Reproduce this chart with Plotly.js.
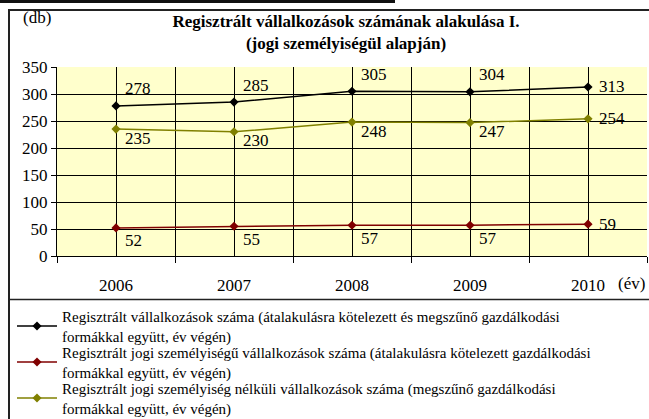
<!DOCTYPE html>
<html>
<head>
<meta charset="utf-8">
<script src="https://cdn.plot.ly/plotly-3.0.1.min.js"></script>
<style>
body{margin:0;}
svg text{font-family:'Liberation Serif' !important;}
</style>
</head>
<body>
<div id="chart"></div>
<script>
// ---- data ----
const years = ['2006', '2007', '2008', '2009', '2010'];
const osszes = [278, 285, 305, 304, 313];        // Regisztrált vállalkozások száma
const jogiSzemelyisegu = [52, 55, 57, 57, 59];   // jogi személyiségű
const jogiNelkuli = [235, 230, 248, 247, 254];   // jogi személyiség nélküli
const seriesNames = [
  'Regisztrált vállalkozások száma (átalakulásra kötelezett és megszűnő gazdálkodási<br>formákkal együtt, év végén)',
  'Regisztrált jogi személyiségű vállalkozások száma (átalakulásra kötelezett gazdálkodási<br>formákkal együtt, év végén)',
  'Regisztrált jogi személyiség nélküli vállalkozások száma (megszűnő gazdálkodási<br>formákkal együtt, év végén)'
];
const yTicks = [0, 50, 100, 150, 200, 250, 300, 350];

// ---- styling ----
const FONT = 'Liberation Serif';
const W = 649, H = 419;
const M = {l: 57, r: 2, t: 67, b: 163};
const PW = W - M.l - M.r, PH = H - M.t - M.b;
const px2x = p => (p - M.l) / PW;
const py2y = p => (H - M.b - p) / PH;

const xIdx = years.map((_, i) => i);
const legendIds = ['legend', 'legend2', 'legend3'];
const legendTops = [300, 336, 372];
const seriesList = [
  {vals: osszes, color: '#000000', name: seriesNames[0], dy: 17},
  {vals: jogiSzemelyisegu, color: '#800000', name: seriesNames[1], dy: -13},
  {vals: jogiNelkuli, color: '#808000', name: seriesNames[2], dy: -9}
];

const traces = seriesList.map((s, k) => ({
  type: 'scatter', mode: 'lines+markers',
  x: xIdx, y: s.vals, name: s.name, legend: legendIds[k],
  line: {color: s.color, width: 1.5},
  marker: {symbol: 'diamond', size: 7, color: s.color},
  hoverinfo: 'skip'
}));

const annotations = [];
seriesList.forEach(s => {
  s.vals.forEach((v, i) => {
    const last = i === s.vals.length - 1;
    annotations.push({
      x: xIdx[i], y: v, xref: 'x', yref: 'y', text: String(v), showarrow: false,
      xanchor: 'left', yanchor: 'middle',
      xshift: last ? 9 : 7, yshift: last ? 0 : s.dy,
      font: {size: 17, color: '#000'}
    });
  });
});
annotations.push({
  xref: 'paper', yref: 'paper', x: px2x(631), y: py2y(283), text: '(év)', showarrow: false,
  xanchor: 'center', yanchor: 'middle', font: {size: 17, color: '#000'}
});
annotations.push({
  xref: 'paper', yref: 'paper', x: px2x(21), y: py2y(18), text: '(db)', showarrow: false,
  xanchor: 'left', yanchor: 'middle', font: {size: 17, color: '#000'}
});

const shapes = [
  {type: 'line', xref: 'paper', yref: 'paper', x0: px2x(0), x1: px2x(395), y0: py2y(1.5), y1: py2y(1.5), line: {color: '#111', width: 3}},
  {type: 'rect', xref: 'paper', yref: 'paper', x0: px2x(9), x1: px2x(700), y0: py2y(10), y1: py2y(470), line: {color: '#222', width: 2}},
  {type: 'line', xref: 'paper', yref: 'paper', x0: px2x(9), x1: px2x(700), y0: py2y(299.5), y1: py2y(299.5), line: {color: '#222', width: 1.5}}
];

const layout = {
  width: W, height: H,
  margin: {l: M.l, r: M.r, t: M.t, b: M.b, autoexpand: false},
  paper_bgcolor: '#ffffff', plot_bgcolor: '#FFFFCC',
  font: {family: FONT, size: 16, color: '#000'},
  title: {
    text: '<b>Regisztrált vállalkozások számának alakulása I.<br>(jogi személyiségül alapján)</b>',
    font: {size: 17, color: '#000'},
    xref: 'container', yref: 'container', x: 346 / W, xanchor: 'center',
    y: 1 - 27 / H, yanchor: 'middle'
  },
  xaxis: {
    type: 'linear', range: [-0.5, 4.5],
    tickvals: xIdx, ticktext: years,
    showgrid: true, gridcolor: '#000', gridwidth: 1,
    ticks: '', ticklabelstandoff: 14,
    showline: true, linecolor: '#000', linewidth: 1, mirror: false,
    zeroline: false,
    minor: {tickvals: [-0.5, 0.5, 1.5, 2.5, 3.5, 4.5], showgrid: true, gridcolor: '#000', gridwidth: 1, ticks: 'outside', ticklen: 6, tickcolor: '#000'},
    tickfont: {size: 17, color: '#000'},
    fixedrange: true
  },
  yaxis: {
    range: [0, 350], tickvals: yTicks,
    showgrid: true, gridcolor: '#000', gridwidth: 1,
    ticks: 'outside', ticklen: 5, tickcolor: '#000',
    showline: true, linecolor: '#000', linewidth: 1,
    zeroline: false,
    tickfont: {size: 17, color: '#000'},
    fixedrange: true
  },
  showlegend: true,
  annotations: annotations,
  shapes: shapes
};
legendIds.forEach((id, k) => {
  layout[id] = {
    xref: 'paper', yref: 'paper', x: px2x(12), y: py2y(legendTops[k]), xanchor: 'left', yanchor: 'top',
    orientation: 'v', bgcolor: 'rgba(0,0,0,0)', borderwidth: 0,
    font: {size: 15, color: '#000'}, itemwidth: 40
  };
});

Plotly.newPlot('chart', traces, layout, {displayModeBar: false});
</script>
</body>
</html>
